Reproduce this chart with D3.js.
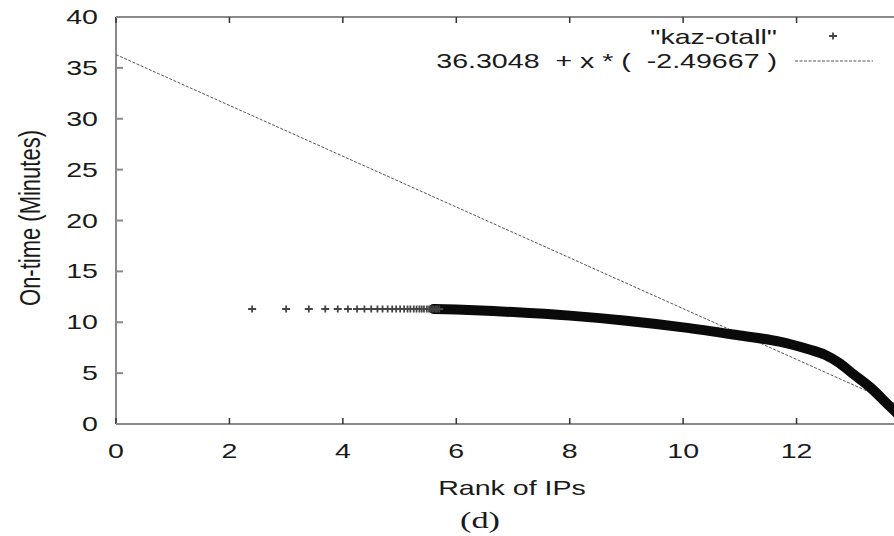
<!DOCTYPE html>
<html>
<head>
<meta charset="utf-8">
<script src="https://cdn.jsdelivr.net/npm/d3@7"></script>
<style>
  body { margin: 0; background: #fff; }
  svg { display: block; }
  text { font-family: "Liberation Sans", Arial, sans-serif; fill: #1a1a1a; }
</style>
</head>
<body>
<div id="chart-area"></div>
<script>
// values
var xTicks = [0, 2, 4, 6, 8, 10, 12, 14];
var xTickLabels = [0, 2, 4, 6, 8, 10, 12];   // 14 falls off the right edge
var yTicks = [0, 5, 10, 15, 20, 25, 30, 35, 40];

// sparse "+" markers on the left (x = log rank)
var sparseX = [2.40, 3.00, 3.40, 3.69, 3.91, 4.09, 4.25, 4.38, 4.50, 4.61, 4.70, 4.79, 4.87, 4.94, 5.01,
               5.08, 5.14, 5.19, 5.25, 5.30, 5.35, 5.39, 5.43, 5.48, 5.52, 5.55, 5.59, 5.63, 5.66, 5.70];
var sparseY = [11.3, 11.3, 11.3, 11.3, 11.3, 11.3, 11.3, 11.3, 11.3, 11.3, 11.3, 11.3, 11.3, 11.3, 11.3,
               11.3, 11.3, 11.3, 11.3, 11.3, 11.3, 11.3, 11.3, 11.3, 11.3, 11.3, 11.3, 11.3, 11.3, 11.3];

// dense part where the markers merge into a thick band
var bandX = [5.6, 6.0, 7.0, 8.0, 9.0, 10.0, 11.0, 11.7, 12.24, 12.5, 12.75, 13.0, 13.3, 13.65, 13.9];
var bandY = [11.3, 11.25, 11.0, 10.65, 10.15, 9.5, 8.7, 8.1, 7.3, 6.8, 6.0, 4.9, 3.6, 1.7, 0.4];

// fitted line
var fitA = 36.3048, fitB = -2.49667;
var fitLabel = "36.3048  + x * (  -2.49667 )";
var seriesLabel = "\"kaz-otall\"";

var width = 894, height = 536;
var stretch = 1.43;   // the scanned figure is wider than tall

var svg = d3.select("#chart-area").append("svg")
    .attr("width", width)
    .attr("height", height);

var x = d3.scaleLinear().domain([0, 14]).range([116, 910]);
var y = d3.scaleLinear().domain([0, 40]).range([424, 17]);

svg.append("clipPath").attr("id", "plot-clip")
  .append("rect")
    .attr("x", x(0)).attr("y", y(40))
    .attr("width", x(14) - x(0)).attr("height", y(0) - y(40));

function label(px, py, str, anchor, size) {
    return svg.append("text")
        .attr("transform", "translate(" + px + "," + py + ") scale(" + stretch + ",1)")
        .attr("text-anchor", anchor)
        .style("font-size", size + "px")
        .text(str);
}

// frame
var axisColor = "#8a8a8a";
svg.append("line")
    .attr("x1", x(0)).attr("x2", x(14)).attr("y1", y(0)).attr("y2", y(0))
    .attr("stroke", axisColor).attr("stroke-width", 2);
svg.append("line")
    .attr("x1", x(0)).attr("x2", x(14)).attr("y1", y(40)).attr("y2", y(40))
    .attr("stroke", axisColor).attr("stroke-width", 2);
svg.append("line")
    .attr("x1", x(0)).attr("x2", x(0)).attr("y1", y(0)).attr("y2", y(40))
    .attr("stroke", axisColor).attr("stroke-width", 2);

// ticks (inward, gnuplot style, mirrored on top)
svg.selectAll(".xtick-b").data(xTicks).enter().append("line")
    .attr("x1", d => x(d)).attr("x2", d => x(d))
    .attr("y1", y(0)).attr("y2", y(0) - 6)
    .attr("stroke", "#333").attr("stroke-width", 1.5);
svg.selectAll(".xtick-t").data(xTicks).enter().append("line")
    .attr("x1", d => x(d)).attr("x2", d => x(d))
    .attr("y1", y(40)).attr("y2", y(40) + 6)
    .attr("stroke", "#333").attr("stroke-width", 1.5);
svg.selectAll(".ytick").data(yTicks).enter().append("line")
    .attr("x1", x(0)).attr("x2", x(0) + 7)
    .attr("y1", d => y(d)).attr("y2", d => y(d))
    .attr("stroke", axisColor).attr("stroke-width", 2);

// tick labels
xTickLabels.forEach(d => label(x(d), 458, d, "middle", 20));
yTicks.forEach(d => label(98, y(d) + 7, d, "end", 20));

// axis titles
label(512, 495, "Rank of IPs", "middle", 20);
svg.append("text")
    .attr("transform", "translate(40,218) scale(1.3,1) rotate(-90)")
    .attr("text-anchor", "middle")
    .style("font-size", "22px")
    .text("On-time (Minutes)");
label(480, 528, "(d)", "middle", 24)
    .style("font-family", "'Liberation Serif', 'Times New Roman', serif");

var plot = svg.append("g").attr("clip-path", "url(#plot-clip)");

// fitted line
plot.append("line")
    .attr("x1", x(0)).attr("y1", y(fitA))
    .attr("x2", x(14)).attr("y2", y(fitA + fitB * 14))
    .attr("stroke", "#555").attr("stroke-width", 1)
    .attr("stroke-dasharray", "3,1.5");

// band of merged points
var band = bandX.map((d, i) => [d, bandY[i]]);
plot.append("path")
    .datum(band)
    .attr("fill", "none")
    .attr("stroke", "#0a0a0a")
    .attr("stroke-width", 10)
    .attr("stroke-linecap", "round")
    .attr("d", d3.line().x(d => x(d[0])).y(d => y(d[1])).curve(d3.curveCatmullRom));

// sparse markers
var plus = "M-4,0H4M0,-3.5V3.5";
var pts = sparseX.map((d, i) => [d, sparseY[i]]);
plot.selectAll(".pt").data(pts).enter().append("path")
    .attr("d", plus)
    .attr("transform", d => "translate(" + x(d[0]) + "," + y(d[1]) + ")")
    .attr("stroke", "#444").attr("stroke-width", 1.8);

// legend
label(777, 44, seriesLabel, "end", 20);
svg.append("path")
    .attr("d", plus)
    .attr("transform", "translate(833,36)")
    .attr("stroke", "#444").attr("stroke-width", 1.8);
label(777, 68, fitLabel, "end", 20)
    .attr("xml:space", "preserve")
    .style("white-space", "pre");
svg.append("line")
    .attr("x1", 795).attr("x2", 873).attr("y1", 61).attr("y2", 61)
    .attr("stroke", "#555").attr("stroke-width", 1)
    .attr("stroke-dasharray", "3,1.5");
</script>
</body>
</html>
